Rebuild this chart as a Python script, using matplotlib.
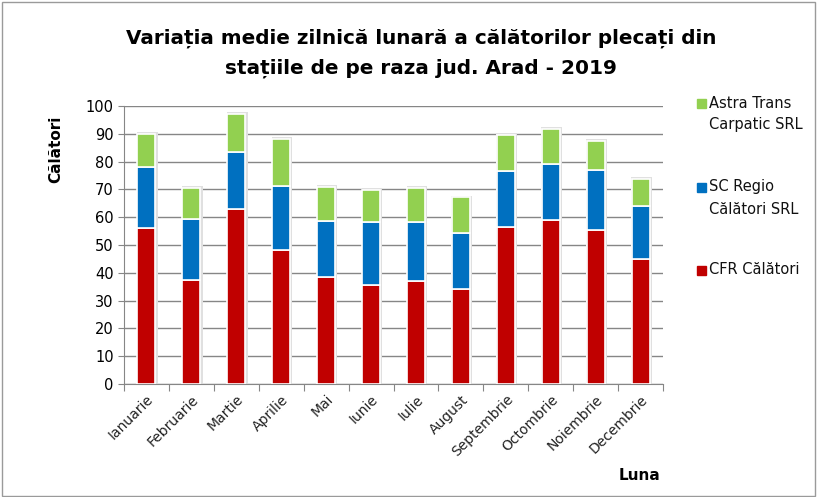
import matplotlib
matplotlib.use("Agg")
import matplotlib.pyplot as plt
import numpy as np
from matplotlib.patches import Rectangle

months = ["Ianuarie", "Februarie", "Martie", "Aprilie", "Mai", "Iunie", "Iulie",
          "August", "Septembrie", "Octombrie", "Noiembrie", "Decembrie"]
cfr = [56, 37.5, 63, 48.3, 38.5, 35.5, 37, 34, 56.3, 59, 55.4, 44.8]
regio = [22.2, 22, 20.3, 22.8, 20, 22.7, 21.2, 20.3, 20.4, 20, 21.7, 19.4]
astra = [11.8, 11, 14, 17.2, 12.5, 11.7, 12.3, 12.9, 12.9, 12.8, 10.4, 9.5]

series_names = ["CFR Călători", "SC Regio\nCălători SRL", "Astra Trans\nCarpatic SRL"]
colors = ["#C00000", "#0070C0", "#92D050"]

plt.rcParams['font.family'] = ['DejaVu Sans']
W, H = 818, 497
fig = plt.figure(figsize=(W/100, H/100), dpi=100)
ax = fig.add_axes([124/W, 1-384/H, (663-124)/W, (384-106)/H])

x = np.arange(len(months))
total = np.array(cfr) + np.array(regio) + np.array(astra)
# soft shadow behind the stacks
ax.bar(x + 0.02, total + 0.6, width=0.46, color="#e0e0e0", edgecolor="none", zorder=2)

bottom = np.zeros(len(months))
for vals, c, name in zip([cfr, regio, astra], colors, series_names):
    v = np.array(vals)
    ax.bar(x, v, bottom=bottom, width=0.4, color=c, edgecolor="white",
           linewidth=1.2, zorder=3, label=name)
    bottom += v

ax.set_xlim(-0.5, len(months) - 0.5)
ax.set_ylim(0, 100)
ax.set_yticks(np.arange(0, 101, 10))
ax.tick_params(axis='y', labelsize=10.5, length=4, color="#868686", direction="out")
ax.yaxis.grid(True, color="#868686", linewidth=1, zorder=0)
ax.set_axisbelow(True)
ax.set_xticks(np.arange(-0.5, len(months), 1), minor=False)
ax.set_xticklabels([])
ax.set_xticks(x, minor=True)
ax.set_xticklabels(months, minor=True, rotation=45, ha="right", rotation_mode="anchor",
                   fontsize=10, color="#222222")
ax.tick_params(axis='x', which='minor', length=0, pad=6)
ax.tick_params(axis='x', which='major', length=5, color="#868686")
for s in ["top", "right"]:
    ax.spines[s].set_visible(False)
for s in ["left", "bottom"]:
    ax.spines[s].set_color("#868686")

fig.text(421/W, 1-38/H, "Variația medie zilnică lunară a călătorilor plecați din",
         ha="center", va="center", fontsize=14.4, fontweight="bold")
fig.text(421/W, 1-68/H, "stațiile de pe raza jud. Arad - 2019",
         ha="center", va="center", fontsize=14.4, fontweight="bold")
fig.text(56/W, 1-149/H, "Călători", rotation=90, ha="center", va="center",
         fontsize=11, fontweight="bold")
fig.text(640/W, 1-476/H, "Luna", ha="center", va="center",
         fontsize=11, fontweight="bold")

# legend (manual layout, top entry = top series)
leg_rows = [(103, 2), (187, 1), (270, 0)]
for ytop, idx in leg_rows:
    fig.patches.append(Rectangle((697/W, 1-(ytop+5)/H), 9/W, 9/H,
                                 transform=fig.transFigure, color=colors[idx]))
    lines = series_names[idx].split("\n")
    for k, ln in enumerate(lines):
        fig.text(709/W, 1-(ytop + 22*k)/H, ln, ha="left", va="center",
                 fontsize=10.5, color="#111111")

fig.patches.append(Rectangle((0.002, 0.003), 0.994, 0.992, transform=fig.transFigure,
                             fill=False, edgecolor="#9a9a9a", linewidth=1))
fig.savefig("out.png", dpi=100)
